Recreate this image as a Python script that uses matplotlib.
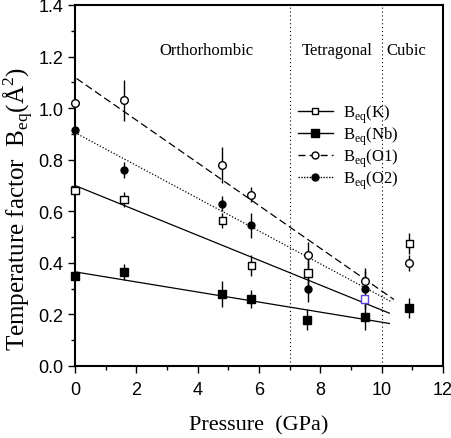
import matplotlib
matplotlib.use("Agg")
import matplotlib.pyplot as plt
from matplotlib.ticker import MultipleLocator
from matplotlib.lines import Line2D

# Data
p_K = [0.0, 1.6, 4.8, 5.75, 7.6, 9.45, 10.9]
b_K = [0.68, 0.645, 0.565, 0.39, 0.36, 0.26, 0.475]
e_K = [0.0, 0.03, 0.03, 0.04, 0.08, 0.0, 0.04]
edge_K = ["k", "k", "k", "k", "k", "#5a46d8", "k"]

p_Nb = [0.0, 1.6, 4.8, 5.75, 7.55, 9.45, 10.9]
b_Nb = [0.35, 0.365, 0.28, 0.26, 0.18, 0.19, 0.225]
e_Nb = [0.0, 0.03, 0.05, 0.035, 0.04, 0.05, 0.04]

p_O1 = [0.0, 1.6, 4.8, 5.75, 7.6, 9.45, 10.9]
b_O1 = [1.02, 1.03, 0.78, 0.665, 0.43, 0.33, 0.40]
e_O1 = [0.0, 0.08, 0.07, 0.03, 0.05, 0.04, 0.03]

p_O2 = [0.0, 1.6, 4.8, 5.75, 7.6, 9.45]
b_O2 = [0.915, 0.76, 0.63, 0.545, 0.30, 0.30]
e_O2 = [0.0, 0.03, 0.03, 0.05, 0.05, 0.08]

# linear fits (endpoints)
fit_K_x = [0.0, 10.25]; fit_K_y = [0.70, 0.205]
fit_Nb_x = [0.0, 10.25]; fit_Nb_y = [0.365, 0.165]
fit_O1_x = [0.05, 10.4]; fit_O1_y = [1.115, 0.258]
fit_O2_x = [0.0, 10.3]; fit_O2_y = [0.905, 0.25]

phase_bounds = [7, 10]
phase_names = ["Orthorhombic", "Tetragonal", "Cubic"]
phase_x = [4.3, 8.55, 10.8]

serif = ["Liberation Serif", "DejaVu Serif"]
sans = ["Liberation Sans", "DejaVu Sans"]
plt.rcParams["mathtext.fontset"] = "custom"
plt.rcParams["mathtext.rm"] = "Liberation Serif"

fig = plt.figure(figsize=(4.52, 4.39), dpi=100)
ax = fig.add_axes([75/452, (439-367)/439, (443-75)/452, (367-6)/439])

ax.plot(fit_K_x, fit_K_y, color="k", lw=0.9, ls="-")
ax.plot(fit_Nb_x, fit_Nb_y, color="k", lw=0.9, ls="-")
ax.plot(fit_O1_x, fit_O1_y, color="k", lw=0.9, ls=(0, (6, 3)))
ax.plot(fit_O2_x, fit_O2_y, color="k", lw=0.9, ls=(0, (1, 1.5)))

for xb in phase_bounds:
    ax.axvline(xb, color="k", lw=0.8, ls=(0, (1, 2.5)))

ekw = dict(ls="none", ecolor="k", elinewidth=1.0, capsize=0, clip_on=False, zorder=3)
ax.errorbar(p_K, b_K, yerr=e_K, fmt="none", ecolor="k", elinewidth=1.0, capsize=0, zorder=3)
ax.scatter(p_K, b_K, marker="s", s=28, facecolors="white", edgecolors=edge_K,
           linewidths=1.0, clip_on=False, zorder=4)
ax.errorbar(p_Nb, b_Nb, yerr=e_Nb, marker="s", ms=6, mfc="k", mec="k", **ekw)
ax.errorbar(p_O1, b_O1, yerr=e_O1, marker="o", ms=5.5, mfc="white", mec="k", mew=1.0, **ekw)
ax.errorbar(p_O2, b_O2, yerr=e_O2, marker="o", ms=5, mfc="k", mec="k", **ekw)

for name, xp in zip(phase_names, phase_x):
    ax.text(xp, 1.225, name, ha="center", va="center", fontsize=12, family=serif)

handles = [
    Line2D([], [], color="k", lw=1, ls="-", marker="s", mfc="white", mec="k", ms=5),
    Line2D([], [], color="k", lw=1, ls="-", marker="s", mfc="k", mec="k", ms=6),
    Line2D([], [], color="k", lw=1, ls=(0, (5, 3)), marker="o", mfc="white", mec="k", ms=5),
    Line2D([], [], color="k", lw=1, ls=(0, (1, 1)), marker="o", mfc="k", mec="k", ms=5),
]
labels = [r"B$_{\rm eq}$(K)", r"B$_{\rm eq}$(Nb)", r"B$_{\rm eq}$(O1)", r"B$_{\rm eq}$(O2)"]
leg = ax.legend(handles, labels, loc="upper left", bbox_to_anchor=(0.605, 0.73),
                frameon=False, prop={"family": serif, "size": 12},
                handlelength=2.1, handletextpad=0.6, labelspacing=0.0, borderaxespad=0,
                borderpad=0)

ax.set_xlim(0, 12)
ax.set_ylim(0, 1.4)
ax.xaxis.set_major_locator(MultipleLocator(2))
ax.xaxis.set_minor_locator(MultipleLocator(1))
ax.yaxis.set_major_locator(MultipleLocator(0.2))
ax.yaxis.set_minor_locator(MultipleLocator(0.1))
ax.tick_params(which="both", direction="out", top=False, right=False, width=1.0)
ax.tick_params(which="major", length=5, labelsize=13)
ax.tick_params(axis="x", which="major", pad=6)
ax.tick_params(which="minor", length=3)
ax.xaxis.set_major_formatter(plt.FuncFormatter(lambda v, p: f"{v:.0f}"))
ax.yaxis.set_major_formatter(plt.FuncFormatter(lambda v, p: f"{v:.1f}"))
for lab in ax.get_xticklabels() + ax.get_yticklabels():
    lab.set_family(sans)
for s in ax.spines.values():
    s.set_linewidth(1.5)

ax.set_xlabel("Pressure  (GPa)", family=serif, fontsize=16, labelpad=12)
fig.text(19/452, (439-209)/439, r"Temperature factor  B$_{\rm eq}$(Å$^{2}$)",
         family=serif, fontsize=18, rotation=90, ha="center", va="center")

fig.savefig("out.png", dpi=100)
